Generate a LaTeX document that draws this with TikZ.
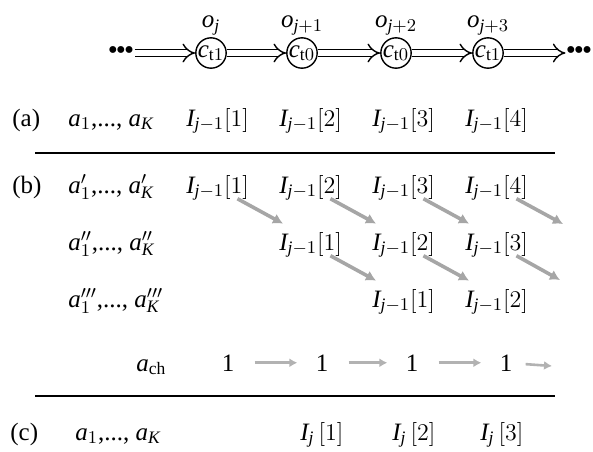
\documentclass[tikz,border=0pt]{standalone}
\usepackage{fontspec}
\setmainfont{Liberation Serif}
\usetikzlibrary{arrows.meta,positioning}
\newcommand{\itv}[1]{\mathit{#1}}
\newcommand{\Iold}[1]{$\itv{I}_{\itv{j}-1}[#1]$}
\newcommand{\Inew}[1]{$\itv{I}_{\itv{j}}\,[#1]$}
\newcommand{\alist}[1]{$\itv{a}#1_1$,..., $\itv{a}#1_{\itv{K}}$}

\begin{document}
\begin{tikzpicture}[x=0.5pt, y=-0.5pt, font=\fontsize{12.5}{15}\selectfont,
    txt/.style={anchor=base west, inner sep=0pt},
    cstate/.style={draw, circle, line width=0.7pt, minimum size=15pt, inner sep=0pt},
    dblarrow/.style={double, double distance=2.6pt, line width=0.7pt, -{Implies}},
    movearrow/.style={draw=gray!70, line width=1.8pt, -{Latex[length=5pt,width=5.5pt]}},
    carry/.style={draw=gray!60, line width=1.3pt, -{Latex[length=4pt,width=4.5pt]}}]
  \useasboundingbox (0,0) rectangle (593,451);
  % chain of states
  \node[inner sep=0pt, font=\Large] (ldots) at (121,53) {\textbullet\kern-1pt\textbullet\kern-1pt\textbullet};
  \node[inner sep=0pt, font=\Large] (rdots) at (579,53) {\textbullet\kern-1pt\textbullet\kern-1pt\textbullet};
  \foreach \n/\x/\t/\o in {1/211/1/{\itv{j}}, 2/302/0/{\itv{j}+1}, 3/396/0/{\itv{j}+2}, 4/488/1/{\itv{j}+3}} {
    \node[cstate] (c\n) at (\x,53) {$\itv{c}_{\mathrm{t}\t}$};
    \node[above=0pt of c\n, inner sep=1pt] (o\n) {$\itv{o}_{\o}$};
  }
  \draw[dblarrow] (ldots) -- (c1);
  \foreach \a/\b in {1/2,2/3,3/4} \draw[dblarrow] (c\a) -- (c\b);
  \draw[dblarrow] (c4) -- (rdots);

  % (a)
  \node[txt] (la) at (12,126) {(a)};
  \node[txt] (aa) at (68,126) {\alist{}};
  \foreach \k/\x in {1/186,2/279,3/372,4/465} \node[txt] (ra\k) at (\x,126) {\Iold{\k}};
  \draw[line width=1pt] (35,153) -- (555,153);

  % (b)
  \node[txt] (lb) at (12,193) {(b)};
  \node[txt] (ab) at (68,193) {\alist{'}};
  \foreach \k/\x in {1/186,2/279,3/372,4/465} \node[txt] (rb\k) at (\x,193) {\Iold{\k}};
  \node[txt] (ad) at (68,250) {\alist{''}};
  \foreach \k/\x in {1/279,2/372,3/465} \node[txt] (rd\k) at (\x,250) {\Iold{\k}};
  \node[txt] (at) at (68,307) {\alist{'''}};
  \foreach \k/\x in {1/372,2/465} \node[txt] (rt\k) at (\x,307) {\Iold{\k}};
  \node[txt] (ach) at (136,371) {$\itv{a}_{\mathrm{ch}}$};
  \foreach \k/\x in {1/228,2/322,3/412,4/506} \node[anchor=base, inner sep=0pt] (one\k) at (\x,371) {1};

  % shifts
  \coordinate (bend) at (563,224);
  \coordinate (dend) at (560,280);
  \coordinate (chend) at (552,366);
  \foreach \k in {1,2,3} \draw[movearrow] ([xshift=-6pt,yshift=1pt]rb\k.south east) -- ([xshift=2pt,yshift=4pt]rd\k.north west);
  \draw[movearrow] ([xshift=-6pt,yshift=1pt]rb4.south east) -- (bend);
  \foreach \k in {1,2} \draw[movearrow] ([xshift=-6pt,yshift=1pt]rd\k.south east) -- ([xshift=2pt,yshift=4pt]rt\k.north west);
  \draw[movearrow] ([xshift=-6pt,yshift=1pt]rd3.south east) -- (dend);
  \foreach \a/\b in {1/2,2/3,3/4} \draw[carry, shorten <=10pt, shorten >=9pt] (one\a) -- (one\b);
  \draw[carry, shorten <=6.5pt] (one4) -- (chend);
  \draw[line width=1pt] (35,396) -- (555,396);

  % (c)
  \node[txt] (lc) at (10,440) {(c)};
  \node[txt] (ac) at (75,440) {\alist{}};
  \foreach \k/\x in {1/300,2/392,3/480} \node[txt] (rc\k) at (\x,440) {\Inew{\k}};
\end{tikzpicture}
\end{document}
